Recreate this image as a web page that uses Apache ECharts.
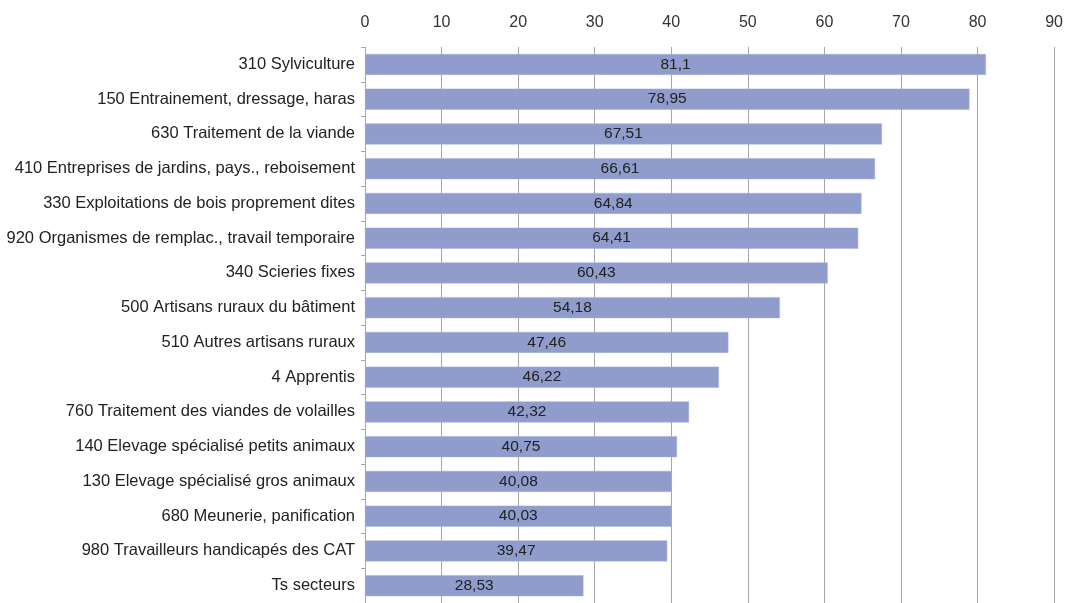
<!DOCTYPE html>
<html>
<head>
<meta charset="utf-8">
<script src="https://cdn.jsdelivr.net/npm/echarts@6/dist/echarts.min.js"></script>
<style>
  html, body { margin: 0; padding: 0; background: #ffffff; }
  #chart { width: 1066px; height: 603px; }
</style>
</head>
<body>
<div id="chart"></div>
<script>
// Sectors, top to bottom
const categories = [
  '310 Sylviculture',
  '150 Entrainement, dressage, haras',
  '630 Traitement de la viande',
  '410 Entreprises de jardins, pays., reboisement',
  '330 Exploitations de bois proprement dites',
  '920 Organismes de remplac., travail temporaire',
  '340 Scieries fixes',
  '500 Artisans ruraux du bâtiment',
  '510 Autres artisans ruraux',
  '4 Apprentis',
  '760 Traitement des viandes de volailles',
  '140 Elevage spécialisé petits animaux',
  '130 Elevage spécialisé gros animaux',
  '680 Meunerie, panification',
  '980 Travailleurs handicapés des CAT',
  'Ts secteurs'
];
const values = [81.1, 78.95, 67.51, 66.61, 64.84, 64.41, 60.43, 54.18, 47.46, 46.22, 42.32, 40.75, 40.08, 40.03, 39.47, 28.53];
const axisTicks = [0, 10, 20, 30, 40, 50, 60, 70, 80, 90];

const font = 'Liberation Sans, Arial, sans-serif';
const chart = echarts.init(document.getElementById('chart'), null, { renderer: 'canvas' });

chart.setOption({
  animation: false,
  grid: { left: 365, right: 7, top: 47, bottom: -2, containLabel: false },
  xAxis: {
    type: 'value',
    position: 'top',
    min: axisTicks[0],
    max: axisTicks[axisTicks.length - 1],
    interval: axisTicks[1] - axisTicks[0],
    axisLine: { show: false },
    axisTick: { show: false },
    axisLabel: { color: '#333333', fontFamily: font, fontSize: 16, margin: 16 },
    splitLine: { show: true, lineStyle: { color: '#a6a6a6', width: 1 } }
  },
  yAxis: {
    type: 'category',
    inverse: true,
    data: categories,
    axisLine: { show: true, lineStyle: { color: '#a6a6a6', width: 1 } },
    axisTick: { show: true, length: 4, lineStyle: { color: '#a6a6a6' } },
    axisLabel: { color: '#222222', fontFamily: font, fontSize: 16.5, margin: 10 }
  },
  series: [{
    type: 'bar',
    data: values,
    barWidth: 21,
    itemStyle: { color: '#8f9ccc', borderColor: '#a7b1d8', borderWidth: 0.5 },
    label: {
      show: true,
      position: 'inside',
      color: '#222222',
      fontFamily: font,
      fontSize: 15.5,
      formatter: p => String(p.value).replace('.', ',')
    }
  }]
});
</script>
</body>
</html>
